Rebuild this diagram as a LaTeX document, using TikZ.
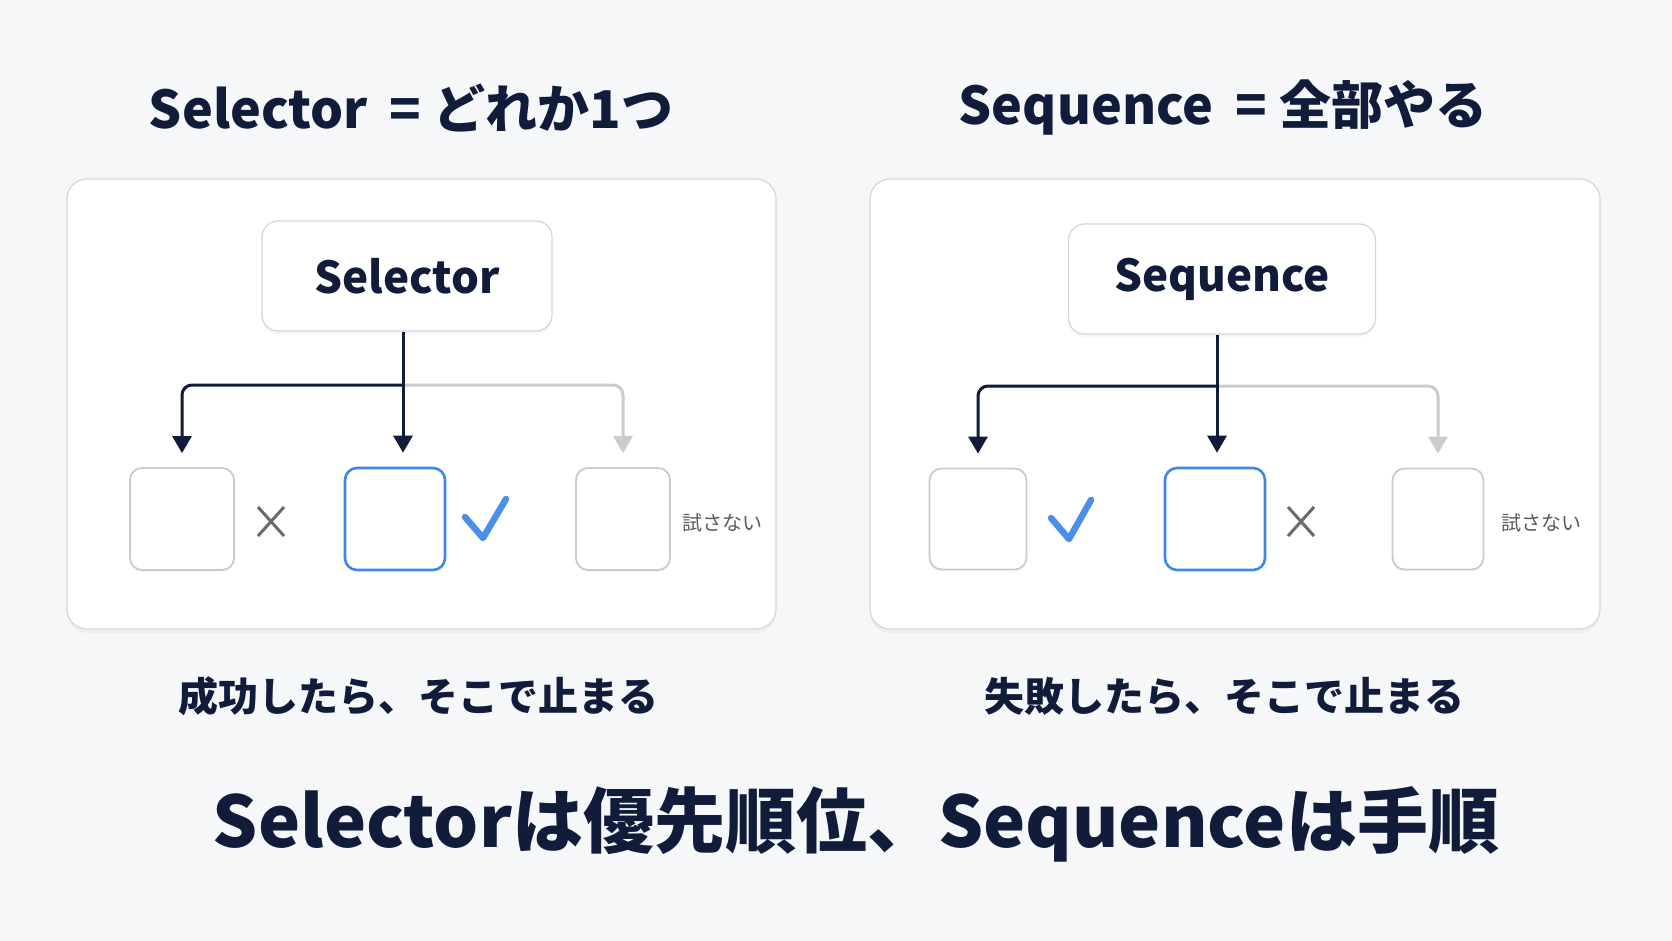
\documentclass[tikz,border=0pt]{standalone}
\usepackage{fontspec}
\setmainfont{Noto Sans CJK JP}
\usetikzlibrary{arrows.meta,shadows}
\definecolor{bg}{HTML}{F6F7F9}
\definecolor{navy}{HTML}{111B3A}
\definecolor{edge}{HTML}{D4D6DA}
\definecolor{faint}{HTML}{C9CBCE}
\definecolor{blue}{HTML}{3F87E4}
\definecolor{chk}{HTML}{4A8FEA}
\definecolor{xgrey}{HTML}{6A6A6A}
\definecolor{lbl}{HTML}{5A5A5A}
\tikzset{
  panel/.style={draw=edge, line width=1.2pt, fill=white, rounded corners=20pt, inner sep=0pt,
    drop shadow={opacity=0.07, shadow xshift=0pt, shadow yshift=-4pt}},
  root/.style={draw=edge, line width=1.2pt, fill=white, rounded corners=16pt, inner sep=0pt,
    font=\fontsize{44}{48}\selectfont\bfseries, text=navy,
    drop shadow={opacity=0.07, shadow xshift=0pt, shadow yshift=-3pt}},
  child/.style={draw=faint, line width=1.8pt, fill=white, rounded corners=12pt, inner sep=0pt,
    drop shadow={opacity=0.06, shadow xshift=0pt, shadow yshift=-2pt}},
  active/.style={draw=blue, line width=2.6pt, fill=white, rounded corners=12pt, inner sep=0pt},
  link/.style={draw=navy, line width=3pt, rounded corners=10pt, shorten >=14pt,
    -{Triangle[width=19pt,length=17pt]}},
  skip/.style={draw=faint, line width=3pt, rounded corners=10pt, shorten >=14pt,
    -{Triangle[width=19pt,length=17pt]}},
  title/.style={font=\fontsize{52}{56}\selectfont\bfseries, text=navy},
  caption/.style={font=\fontsize{40}{44}\selectfont\bfseries, text=navy},
  bottom/.style={font=\fontsize{71}{76}\selectfont\bfseries, text=navy},
  note/.style={font=\fontsize{20}{24}\selectfont, text=lbl, anchor=west},
  cross/.style={draw=xgrey, line width=3pt},
  tick/.style={draw=chk, line width=6.5pt, line cap=round, line join=round},
}
\begin{document}
\begin{tikzpicture}[x=1pt,y=-1pt]
\fill[bg] (0,0) rectangle (1672,941);
\useasboundingbox (0,0) rectangle (1672,941);

% titles
\node[title] (t1) at (411,108) {Selector\hspace{22pt}=\hspace{12pt}どれか1つ};
\node[title] (t2) at (1223,108) {Sequence\hspace{22pt}=\hspace{12pt}全部やる};

% panels
\node[panel, minimum width=709pt, minimum height=450pt] (p1) at (421.5,404) {};
\node[panel, minimum width=730pt, minimum height=450pt] (p2) at (1235,404) {};

% ---------- Selector panel
\node[root, minimum width=290pt, minimum height=110pt] (sel) at (407,276) {Selector};
\node[child, minimum width=104pt, minimum height=102pt] (a1) at (182,519) {};
\node[active, minimum width=100pt, minimum height=102pt] (a2) at (395,519) {};
\node[child, minimum width=94pt, minimum height=102pt] (a3) at (623,519) {};
\coordinate (sa) at ([xshift=-4pt]sel.south);
\coordinate (ja) at (sa |- 0,385);
\draw[skip] (ja) -| (a3.north);
\draw[link] (ja) -| (a1.north);
\draw[link] (sa) -- (sa |- a2.north);
\draw[cross] (258,507) -- (284,536) (284,507) -- (258,536);
\draw[tick] (465,517) -- (483,538) -- (506,499);
\node[note] (na) at (679,523) {試さない};

% ---------- Sequence panel
\node[root, minimum width=307pt, minimum height=110pt] (seq) at (1222,279) {Sequence};
\node[child, minimum width=97pt, minimum height=101pt] (b1) at (978,519) {};
\node[active, minimum width=100pt, minimum height=102pt] (b2) at (1215,519) {};
\node[child, minimum width=91pt, minimum height=101pt] (b3) at (1438,519) {};
\coordinate (sb) at ([xshift=-5pt]seq.south);
\coordinate (jb) at (sb |- 0,386);
\draw[skip] (jb) -| (b3.north);
\draw[link] (jb) -| (b1.north);
\draw[link] (sb) -- (sb |- b2.north);
\draw[tick] (1051,518) -- (1069,539) -- (1091,500);
\draw[cross] (1288,507) -- (1314,536) (1314,507) -- (1288,536);
\node[note] (nb) at (1498,523) {試さない};

% captions
\node[caption] (c1) at (418,696) {成功したら、そこで止まる};
\node[caption] (c2) at (1224,696) {失敗したら、そこで止まる};

% bottom line
\node[bottom] (bl) at (856,824) {Selectorは優先順位、Sequenceは手順};
\end{tikzpicture}
\end{document}
